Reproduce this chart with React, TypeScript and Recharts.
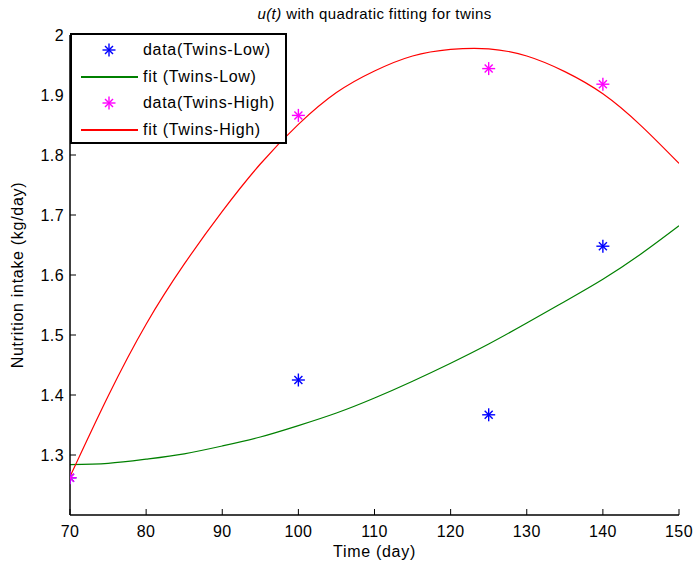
import { ComposedChart, Line, Scatter, XAxis, YAxis, Legend } from 'recharts';

const days = [70, 75, 80, 85, 90, 95, 100, 105, 110, 115, 120, 125, 130, 135, 140, 145, 150];
const fitLow = [1.284, 1.286, 1.293, 1.302, 1.315, 1.33, 1.349, 1.37, 1.395, 1.423, 1.453, 1.485, 1.52, 1.556, 1.593, 1.635, 1.682];
const fitHigh = [1.264, 1.398, 1.518, 1.618, 1.706, 1.785, 1.851, 1.904, 1.94, 1.965, 1.976, 1.977, 1.965, 1.939, 1.902, 1.849, 1.786];

const dataDays = [70, 100, 125, 140];
const dataLow = [1.262, 1.425, 1.367, 1.648];
const dataHigh = [1.262, 1.866, 1.944, 1.918];

const xTicks = [70, 80, 90, 100, 110, 120, 130, 140, 150];
const yTicks = [1.3, 1.4, 1.5, 1.6, 1.7, 1.8, 1.9, 2];

const legendItems = [
  { name: 'data(Twins-Low)', color: '#0000ff', kind: 'star' },
  { name: 'fit (Twins-Low)', color: '#008000', kind: 'line' },
  { name: 'data(Twins-High)', color: '#ff00ff', kind: 'star' },
  { name: 'fit (Twins-High)', color: '#ff0000', kind: 'line' },
];

const toRows = (xs: number[], ys: number[]) => xs.map((t, i) => ({ t, v: ys[i] }));

const FONT = 'Liberation Sans, Arial, sans-serif';
const SPACING = 0.7;

function starLines(cx: number, cy: number, color: string) {
  const r = 6.5;
  const d = 4;
  return (
    <g stroke={color} strokeWidth={1.4}>
      <line x1={cx - r} y1={cy} x2={cx + r} y2={cy} />
      <line x1={cx} y1={cy - r} x2={cx} y2={cy + r} />
      <line x1={cx - d} y1={cy - d} x2={cx + d} y2={cy + d} />
      <line x1={cx - d} y1={cy + d} x2={cx + d} y2={cy - d} />
    </g>
  );
}

const makeStar = (color: string) => (props: any) => starLines(props.cx, props.cy, color);

const XTick = (props: any) => {
  const { x, y, payload } = props;
  return (
    <g>
      <line x1={x} y1={y} x2={x} y2={y - 6} stroke="#000" strokeWidth={1} />
      <text x={x} y={y + 22} textAnchor="middle" fontSize={16} letterSpacing={0.4} fontFamily={FONT} fill="#000">
        {payload.value}
      </text>
    </g>
  );
};

const YTick = (props: any) => {
  const { x, y, payload } = props;
  return (
    <g>
      <line x1={x} y1={y} x2={x + 6} y2={y} stroke="#000" strokeWidth={1} />
      <text x={x - 6} y={y + 6} textAnchor="end" fontSize={16} letterSpacing={0.4} fontFamily={FONT} fill="#000">
        {payload.value}
      </text>
    </g>
  );
};

const LegendBox = () => (
  <div
    style={{
      boxSizing: 'border-box',
      width: 217,
      height: 111,
      border: '2px solid #000',
      background: '#fff',
      fontFamily: FONT,
      fontSize: 16,
      letterSpacing: SPACING,
      color: '#000',
      paddingTop: 2,
      textAlign: 'left',
    }}
  >
    {legendItems.map((it) => (
      <div key={it.name} style={{ display: 'flex', alignItems: 'center', height: 26.5 }}>
        <svg width={71} height={26} style={{ display: 'block', flexShrink: 0 }}>
          {it.kind === 'line' ? (
            <rect x={9} y={12} width={57} height={2} fill={it.color} />
          ) : (
            starLines(37, 13, it.color)
          )}
        </svg>
        <span style={{ whiteSpace: 'nowrap' }}>{it.name}</span>
      </div>
    ))}
  </div>
);

export default function App() {
  return (
    <div style={{ position: 'absolute', left: 0, top: 0, width: 694, height: 570, background: '#fff' }}>
      <div
        style={{
          position: 'absolute',
          left: 0,
          width: 749,
          top: 5,
          textAlign: 'center',
          fontFamily: FONT,
          fontSize: 15,
          letterSpacing: 0.4,
          color: '#000',
          zIndex: 2,
          pointerEvents: 'none',
        }}
      >
        <i>u(t)</i> with quadratic fitting for twins
      </div>
      <ComposedChart width={694} height={570} margin={{ top: 35, right: 15, bottom: 0, left: 0 }}>
        <XAxis
          type="number"
          dataKey="t"
          domain={[70, 150]}
          ticks={xTicks}
          interval={0}
          allowDataOverflow
          height={55}
          tickSize={0}
          tickMargin={0}
          tickLine={false}
          tick={<XTick />}
          axisLine={{ stroke: '#000', strokeWidth: 1.5 }}
          label={{
            content: (p: any) => (
              <text
                x={p.viewBox.x + p.viewBox.width / 2}
                y={p.viewBox.y + 42}
                textAnchor="middle"
                fontSize={16}
                letterSpacing={SPACING}
                fontFamily={FONT}
                fill="#000"
              >
                Time (day)
              </text>
            ),
          }}
        />
        <YAxis
          type="number"
          domain={[1.2, 2]}
          ticks={yTicks}
          interval={0}
          allowDataOverflow
          width={70}
          tickSize={0}
          tickMargin={0}
          tickLine={false}
          tick={<YTick />}
          axisLine={{ stroke: '#000', strokeWidth: 1.5 }}
          label={{
            content: (p: any) => (
              <text
                x={23}
                y={p.viewBox.y + p.viewBox.height / 2}
                transform={`rotate(-90, 23, ${p.viewBox.y + p.viewBox.height / 2})`}
                textAnchor="middle"
                fontSize={16}
                letterSpacing={SPACING}
                fontFamily={FONT}
                fill="#000"
              >
                Nutrition intake (kg/day)
              </text>
            ),
          }}
        />
        <Scatter
          name="data(Twins-Low)"
          data={toRows(dataDays, dataLow)}
          dataKey="v"
          shape={makeStar('#0000ff')}
          isAnimationActive={false}
        />
        <Line
          name="fit (Twins-Low)"
          data={toRows(days, fitLow)}
          dataKey="v"
          type="natural"
          stroke="#008000"
          strokeWidth={1.2}
          dot={false}
          isAnimationActive={false}
        />
        <Scatter
          name="data(Twins-High)"
          data={toRows(dataDays, dataHigh)}
          dataKey="v"
          shape={makeStar('#ff00ff')}
          isAnimationActive={false}
        />
        <Line
          name="fit (Twins-High)"
          data={toRows(days, fitHigh)}
          dataKey="v"
          type="natural"
          stroke="#ff0000"
          strokeWidth={1.2}
          dot={false}
          isAnimationActive={false}
        />
        <Legend
          layout="horizontal"
          verticalAlign="middle"
          align="center"
          content={<LegendBox />}
          wrapperStyle={{ left: 70, top: 33, width: 'auto' }}
        />
      </ComposedChart>
    </div>
  );
}
